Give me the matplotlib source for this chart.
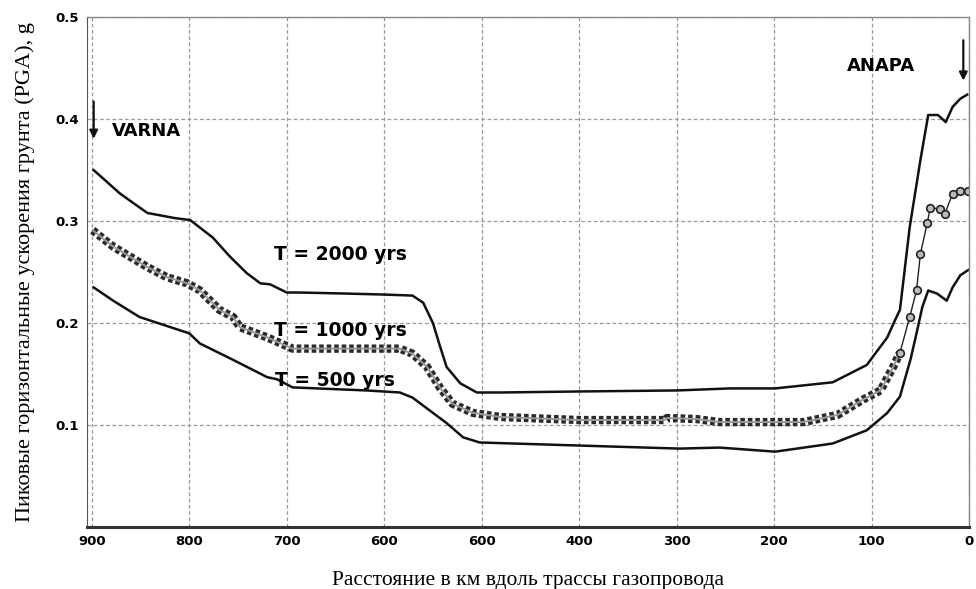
import matplotlib.pyplot as plt

# distance along pipeline, km (900 = Varna, 0 = Anapa)
km_2000 = [898, 871, 843, 815, 799, 776, 758, 741, 727, 717, 700, 687, 640, 600, 571,
           560, 550, 543, 536, 522, 505, 481, 400, 300, 245, 199, 140, 105, 84, 76,
           71, 61, 50, 42, 32, 24, 17, 9, 2]
pga_2000 = [0.350, 0.327, 0.308, 0.303, 0.301, 0.284, 0.265, 0.249, 0.239, 0.238, 0.230, 0.230, 0.229, 0.228, 0.227,
            0.220, 0.200, 0.178, 0.157, 0.141, 0.132, 0.132, 0.133, 0.134, 0.136, 0.136, 0.142, 0.159, 0.186, 0.203,
            0.213, 0.294, 0.360, 0.404, 0.404, 0.397, 0.412, 0.420, 0.424]

km_1000 = [899, 878, 843, 823, 802, 789, 769, 755, 748, 720, 694, 650, 584, 571,
           556, 543, 530, 509, 481, 400, 312, 310, 280, 256, 170, 135, 109, 91, 78, 71,
           61, 54, 50, 43, 40, 30, 25, 17, 9, 1]
pga_1000 = [0.291, 0.275, 0.255, 0.245, 0.239, 0.232, 0.213, 0.206, 0.196, 0.186, 0.175, 0.175, 0.175, 0.170,
            0.157, 0.137, 0.121, 0.112, 0.108, 0.105, 0.105, 0.107, 0.106, 0.103, 0.103, 0.110, 0.125, 0.134, 0.157, 0.171,
            0.206, 0.232, 0.268, 0.298, 0.313, 0.312, 0.307, 0.327, 0.330, 0.330]

km_500 = [898, 878, 851, 800, 789, 755, 720, 710, 694, 618, 584, 571, 550, 536, 519,
          502, 400, 297, 256, 199, 140, 105, 84, 71, 60, 54, 48, 42, 33, 23,
          17, 9, 1]
pga_500 = [0.235, 0.222, 0.206, 0.190, 0.180, 0.164, 0.147, 0.145, 0.137, 0.134, 0.132, 0.127, 0.112, 0.102, 0.088,
           0.083, 0.080, 0.077, 0.078, 0.074, 0.082, 0.095, 0.112, 0.128, 0.165, 0.190, 0.216, 0.232, 0.229, 0.222,
           0.235, 0.247, 0.252]

x_ticks = [900, 800, 700, 600, 500, 400, 300, 200, 100, 0]
x_labels = ['900', '800', '700', '600', '600', '400', '300', '200', '100', '0']
y_ticks = [0.1, 0.2, 0.3, 0.4, 0.5]
y_labels = ['0.1', '0.2', '0.3', '0.4', '0.5']

fig = plt.figure(figsize=(9.76, 5.89), dpi=100)
ax = fig.add_axes([0.089, 0.105, 0.904, 0.866])

ax.plot(km_2000, pga_2000, color='#111111', lw=1.8)
ax.plot(km_500, pga_500, color='#111111', lw=1.8)

# T = 1000: chain of small square markers, circles on the steep part near Anapa
split = km_1000.index(71)
ax.plot(km_1000[:split + 1], pga_1000[:split + 1], color='#2a2a2a', lw=6,
        dashes=[0.55, 0.35], solid_capstyle='butt', dash_capstyle='butt')
ax.plot(km_1000[:split + 1], pga_1000[:split + 1], color='#999999', lw=1.4)
ax.plot(km_1000[split:], pga_1000[split:], color='#222222', lw=1.0,
        marker='o', ms=5.5, mfc='#bbbbbb', mec='#222222', mew=1.2)

ax.set_xlim(905, 0)
ax.set_ylim(0, 0.5)
ax.set_xticks(x_ticks)
ax.set_xticklabels(x_labels, fontsize=9.5, fontweight='heavy')
ax.set_yticks(y_ticks)
ax.set_yticklabels(y_labels, fontsize=9.5, fontweight='heavy')
ax.tick_params(length=0, pad=6)
ax.grid(True, color='#999999', lw=0.9, ls=(0, (3, 2)))

for side in ['top', 'right']:
    ax.spines[side].set_color('#888888')
    ax.spines[side].set_linewidth(1.0)
ax.spines['left'].set_color('#555555')
ax.spines['bottom'].set_linewidth(2.2)
ax.spines['bottom'].set_color('#333333')

tfont = dict(fontsize=13.5, fontweight='heavy', ha='center', va='center')
ax.text(645, 0.267, 'T = 2000 yrs', **tfont)
ax.text(645, 0.193, 'T = 1000 yrs', **tfont)
ax.text(651, 0.144, 'T = 500 yrs', **tfont)

ax.text(879, 0.388, 'VARNA', fontsize=13, fontweight='heavy', ha='left', va='center')
ax.text(125, 0.452, 'ANAPA', fontsize=13, fontweight='heavy', ha='left', va='center')
ax.annotate('', xy=(898, 0.378), xytext=(898, 0.42),
            arrowprops=dict(arrowstyle='-|>', color='#111111', lw=1.6, mutation_scale=12))
ax.annotate('', xy=(6, 0.435), xytext=(6, 0.48),
            arrowprops=dict(arrowstyle='-|>', color='#111111', lw=1.6, mutation_scale=12))

ax.set_ylabel('Пиковые горизонтальные ускорения грунта (PGA), g',
              family='Liberation Serif', fontsize=16, labelpad=14)
ax.set_xlabel('Расстояние в км вдоль трассы газопровода',
              family='Liberation Serif', fontsize=15.5, labelpad=16)

fig.savefig('out.png', dpi=100)
